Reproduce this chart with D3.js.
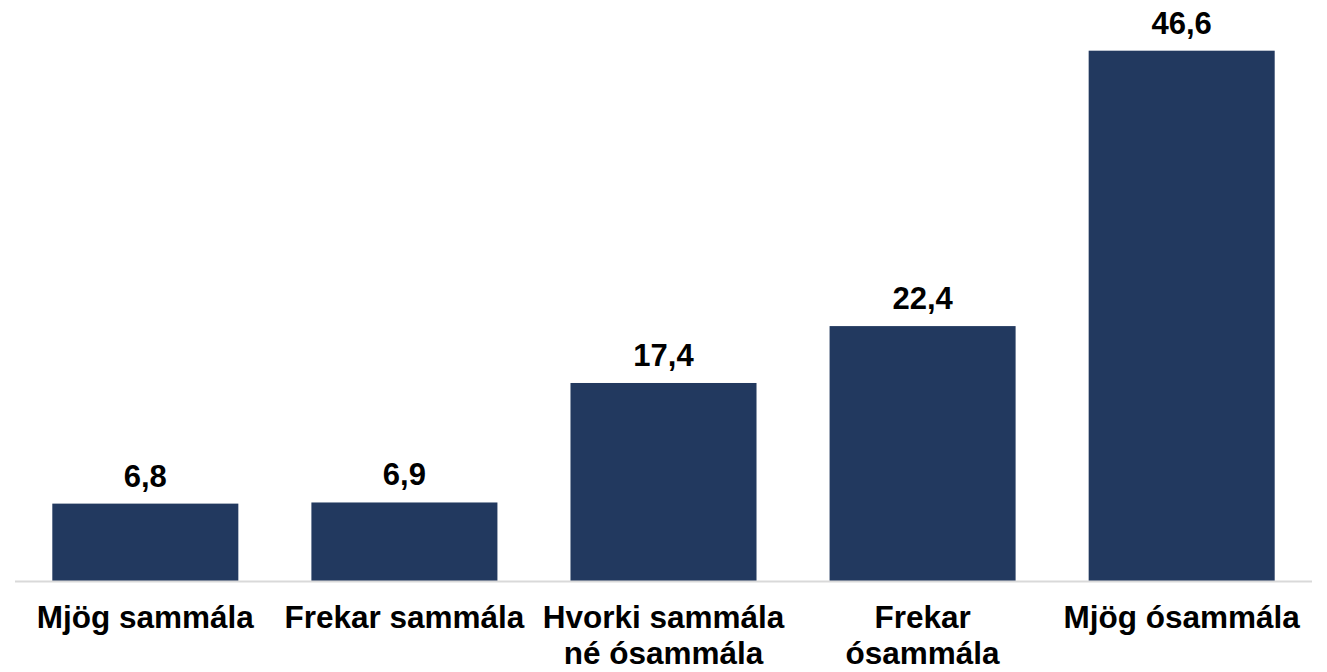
<!DOCTYPE html>
<html>
<head>
<meta charset="utf-8">
<script src="https://cdn.jsdelivr.net/npm/d3@7"></script>
<style>
    body { margin: 0; background: #fff; }
    text { font-family: "Liberation Sans", Arial, sans-serif; font-weight: bold; fill: #000; }
</style>
</head>
<body>
<div id="chart"></div>
<script>

// data
let categories = [
    ["Mjög sammála"],
    ["Frekar sammála"],
    ["Hvorki sammála", "né ósammála"],
    ["Frekar", "ósammála"],
    ["Mjög ósammála"]
];
let values = [6.8, 6.9, 17.4, 22.4, 46.6];
let valueLabels = ["6,8", "6,9", "17,4", "22,4", "46,6"];

let width = 1327, height = 672;

let svg = d3.select("#chart").append("svg")
    .attr("width", width)
    .attr("height", height);

// scales
let x = d3.scaleBand()
    .domain(d3.range(values.length))
    .range([15, 1312])
    .paddingInner(0.282)
    .paddingOuter(0.144);

let y = d3.scaleLinear()
    .domain([0, 50])
    .range([581, 12]);

// bars
svg.selectAll(".bar")
    .data(values)
    .enter().append("rect")
    .attr("class", "bar")
    .attr("x", (d, i) => x(i))
    .attr("y", d => y(d))
    .attr("width", x.bandwidth())
    .attr("height", d => y(0) - y(d))
    .style("fill", "#22395f");

// baseline
svg.append("line")
    .attr("x1", 15)
    .attr("x2", 1312)
    .attr("y1", y(0) + 0.5)
    .attr("y2", y(0) + 0.5)
    .style("stroke", "#d9d9d9")
    .style("stroke-width", 2);

// value labels
svg.selectAll(".value")
    .data(values)
    .enter().append("text")
    .attr("class", "value")
    .attr("x", (d, i) => x(i) + x.bandwidth() / 2)
    .attr("y", d => y(d) - 17)
    .attr("text-anchor", "middle")
    .style("font-size", "31px")
    .text((d, i) => valueLabels[i]);

// category labels
let cat = svg.selectAll(".cat")
    .data(categories)
    .enter().append("text")
    .attr("class", "cat")
    .attr("text-anchor", "middle")
    .style("font-size", "31.5px")
    .attr("transform", (d, i) => `translate(${x(i) + x.bandwidth() / 2}, 628)`);

cat.selectAll("tspan")
    .data(d => d)
    .enter().append("tspan")
    .attr("x", 0)
    .attr("dy", (d, i) => i === 0 ? 0 : 36)
    .text(d => d);

</script>
</body>
</html>
